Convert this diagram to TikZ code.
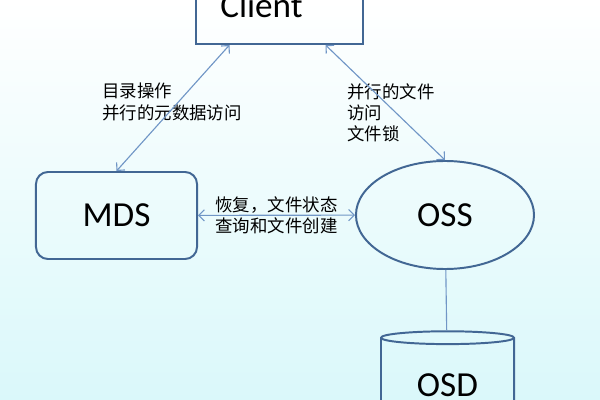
\documentclass[tikz,border=0pt]{standalone}
\usepackage{fontspec}
\setmainfont{Carlito}
\newfontfamily\cjk{Noto Sans CJK SC}
\usetikzlibrary{shapes.geometric,arrows.meta}
\definecolor{boxline}{RGB}{66,103,148}
\definecolor{linkline}{RGB}{112,150,198}
\definecolor{bgmid}{RGB}{242,244,244}
\definecolor{bgbot}{RGB}{218,248,250}
\begin{document}
\begin{tikzpicture}[
	x=0.025cm, y=-0.025cm,
	unit/.style={draw=boxline, line width=1.4pt, inner sep=0pt, font=\fontsize{25}{30}\selectfont},
	note/.style={font=\cjk\fontsize{12.4}{15.2}\selectfont, align=left, inner sep=0pt},
	link/.style={draw=linkline, line width=0.8pt, {Straight Barb[length=4pt,width=8pt]}-{Straight Barb[length=4pt,width=8pt]}},
	plain/.style={draw=linkline, line width=0.8pt}
	]
	\useasboundingbox (0,0) rectangle (600,400);
	\shade[top color=white, middle color=bgmid, bottom color=bgbot] (0,0) rectangle (600,400);
	\node[unit, rectangle, minimum width=4.175cm, minimum height=1.95cm] (client) at (279.5,5) {Client\hspace*{0.9cm}};
	\node[unit, rectangle, rounded corners=0.3cm, minimum width=4.025cm, minimum height=2.175cm] (mds) at (116.5,215.5) {MDS};
	\node[unit, ellipse, minimum width=4.45cm, minimum height=2.7cm] (oss) at (445,215) {OSS};
	\node[unit, cylinder, shape border rotate=90, aspect=0.21, minimum width=3.325cm, minimum height=2.5cm] (osd) at (447.5,385) {OSD};
	\node[note, anchor=north west] (dirops) at (102,83) {目录操作\\并行的元数据访问};
	\node[note, anchor=north west] (fileops) at (347,83) {并行的文件\\访问\\文件锁};
	\draw[link] ([xshift=-1.25cm]client.south) -- (mds.north);
	\draw[link] ([xshift=1.15cm]client.south) -- (oss.north);
	\draw[link] (mds) -- node[note, align=center] (restore) {恢复，文件状态\\查询和文件创建} (oss);
	\draw[plain] (oss) -- (osd);
\end{tikzpicture}
\end{document}
